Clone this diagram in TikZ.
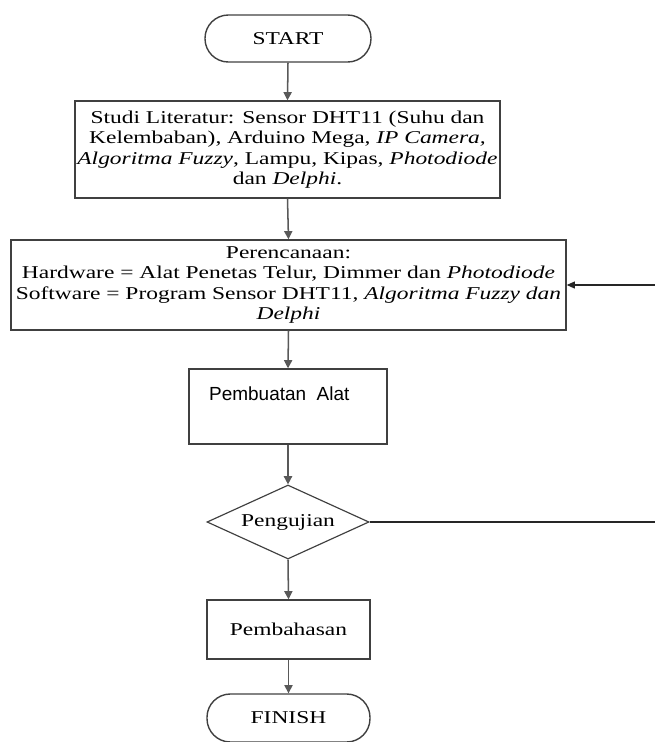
\documentclass[tikz,border=0pt]{standalone}
\usepackage{fontspec}
\setmainfont{Liberation Serif}[FakeStretch=1.3]
\setsansfont{Liberation Sans}
\usetikzlibrary{shapes.geometric,arrows.meta}
\newcommand{\pxu}{0.03cm}
\tikzset{
  box/.style={draw=black!75, line width=1.2pt, rectangle, inner sep=0pt},
  terminal/.style={box, rounded corners=0.7cm},
  decision/.style={draw=black!75, line width=1pt, diamond, aspect=2.2, inner sep=0pt,
    minimum width=162*\pxu, minimum height=74*\pxu},
  flow/.style={draw=black!65, line width=1.3pt, -{Triangle[length=7pt,width=7pt]}},
  back/.style={draw=black!85, line width=0.9pt},
  txt/.style={font=\fontsize{15.4}{17.5}\selectfont, align=center}
}

\begin{document}
\begin{tikzpicture}[x=0.03cm,y=-0.03cm]
        \useasboundingbox (0,0) rectangle (655,742);
        \node[terminal, txt, minimum width=166*\pxu, minimum height=47*\pxu] (start) at (288,38.5) {START};
        \node[box, txt, minimum width=425*\pxu, minimum height=97*\pxu] (studi) at (287.5,149.5)
            {Studi Literatur: Sensor DHT11 (Suhu dan\\ Kelembaban), Arduino Mega, \textit{IP Camera,}\\
             \textit{Algoritma Fuzzy}, Lampu, Kipas, \textit{Photodiode}\\ dan \textit{Delphi}.};
        \node[box, txt, minimum width=555*\pxu, minimum height=90*\pxu] (rencana) at (288.5,285)
            {Perencanaan:\\ Hardware = Alat Penetas Telur, Dimmer dan \textit{Photodiode}\\
             Software = Program Sensor DHT11, \textit{Algoritma Fuzzy dan}\\ \textit{Delphi}};
        \node[box, minimum width=198*\pxu, minimum height=75*\pxu] (buat) at (288,406.5) {};
        \node[font=\sffamily\fontsize{16.2}{18}\selectfont, anchor=base west] (buatlbl) at (205,400) {Pembuatan\ \ Alat};
        \node[decision, txt] (uji) at (288,522) {Pengujian};
        \node[box, txt, minimum width=163*\pxu, minimum height=59*\pxu] (bahas) at (288.5,629.5) {Pembahasan};
        \node[terminal, txt, minimum width=163*\pxu, minimum height=48*\pxu] (finish) at (288.5,718) {FINISH};
        \coordinate (balik) at (657,522);

        \draw[flow] (start.south) -- (studi.north);
        \draw[flow] (studi.south) -- (rencana.north);
        \draw[flow] (rencana.south) -- (buat.north);
        \draw[flow] (buat.south) -- (uji.north);
        \draw[flow] (uji.south) -- (bahas.north);
        \draw[flow] (bahas.south) -- (finish.north);
        \draw[back] (uji.east) -- (balik);
        \draw[back, -{Triangle[length=7pt,width=6pt]}] (balik) |- (rencana.east);
    \end{tikzpicture}
\end{document}
